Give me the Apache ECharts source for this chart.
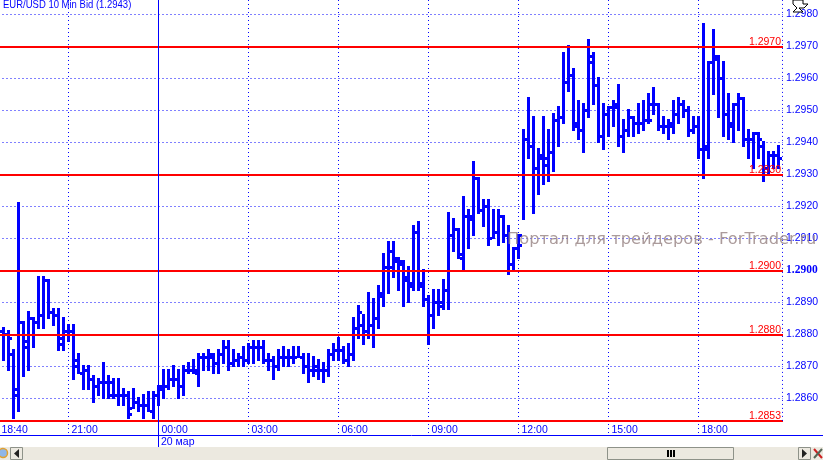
<!DOCTYPE html>
<html><head><meta charset="utf-8">
<style>html,body{margin:0;padding:0;background:#fff}#c{width:823px;height:461px}</style>
<script src="https://cdn.jsdelivr.net/npm/echarts@6/dist/echarts.min.js"></script>
</head><body><div id="c"></div>
<script>
const opens=[1.2881,1.2880,1.2874,1.2863,1.2884,1.2876,1.2885,1.2884,1.2886,1.2897,
1.2887,1.2886,1.2877,1.2881,1.2881,1.2872,1.2868,1.2869,1.2866,1.2864,
1.2865,1.2865,1.2861,1.2861,1.2861,1.2861,1.2857,1.2859,1.2858,1.2858,
1.2856,1.2861,1.2863,1.2864,1.2866,1.2866,1.2864,1.2869,1.2869,1.2868,
1.2873,1.2873,1.2873,1.2871,1.2874,1.2876,1.2871,1.2872,1.2873,1.2872,
1.2876,1.2876,1.2876,1.2872,1.2872,1.2870,1.2873,1.2873,1.2873,1.2873,
1.2873,1.2870,1.2869,1.2870,1.2869,1.2869,1.2874,1.2875,1.2875,1.2872,
1.2874,1.2882,1.2883,1.2881,1.2883,1.2885,1.2893,1.2901,1.2906,1.2904,
1.2902,1.2897,1.2895,1.2912,1.2896,1.2891,1.2886,1.2890,1.2889,1.2894,
1.2911,1.2913,1.2904,1.2917,1.2916,1.2929,1.2919,1.2920,1.2910,1.2912,
1.2917,1.2911,1.2902,1.2907,1.2911,1.2941,1.2939,1.2932,1.2935,1.2933,
1.2937,1.2947,1.2948,1.2959,1.2961,1.2946,1.2944,1.2950,1.2967,1.2958,
1.2942,1.2949,1.2951,1.2951,1.2942,1.2944,1.2948,1.2946,1.2946,1.2947,
1.2952,1.2952,1.2945,1.2945,1.2945,1.2949,1.2952,1.2950,1.2944,1.2945,
1.2938,1.2939,1.2965,1.2967,1.2960,1.2949,1.2945,1.2952,1.2954,1.2941,
1.2941,1.2943,1.2939,1.2932,1.2936,1.2936];
const highs=[1.2882,1.2881,1.2875,1.2921,1.2884,1.2887,1.2885,1.2898,1.2898,1.2897,
1.2888,1.2888,1.2885,1.2883,1.2883,1.2874,1.2870,1.2870,1.2867,1.2866,
1.2871,1.2867,1.2866,1.2866,1.2863,1.2862,1.2863,1.2860,1.2861,1.2862,
1.2862,1.2864,1.2869,1.2869,1.2870,1.2869,1.2870,1.2871,1.2872,1.2874,
1.2874,1.2875,1.2874,1.2875,1.2878,1.2878,1.2875,1.2874,1.2876,1.2877,
1.2878,1.2878,1.2878,1.2874,1.2873,1.2875,1.2876,1.2875,1.2876,1.2876,
1.2874,1.2874,1.2873,1.2872,1.2871,1.2875,1.2877,1.2879,1.2876,1.2877,
1.2885,1.2889,1.2886,1.2893,1.2891,1.2895,1.2905,1.2909,1.2909,1.2904,
1.2903,1.2901,1.2914,1.2915,1.2900,1.2892,1.2894,1.2894,1.2897,1.2918,
1.2916,1.2913,1.2923,1.2919,1.2934,1.2929,1.2922,1.2922,1.2919,1.2919,
1.2917,1.2914,1.2907,1.2911,1.2944,1.2954,1.2948,1.2938,1.2948,1.2944,
1.2949,1.2951,1.2968,1.2970,1.2963,1.2953,1.2952,1.2972,1.2968,1.2960,
1.2952,1.2951,1.2953,1.2958,1.2947,1.2950,1.2948,1.2952,1.2953,1.2955,
1.2957,1.2952,1.2948,1.2947,1.2953,1.2954,1.2953,1.2951,1.2948,1.2948,
1.2977,1.2965,1.2975,1.2967,1.2965,1.2955,1.2952,1.2955,1.2954,1.2944,
1.2943,1.2943,1.2940,1.2937,1.2937,1.2939];
const lows=[1.2872,1.2869,1.2854,1.2856,1.2867,1.2869,1.2876,1.2882,1.2882,1.2885,
1.2883,1.2875,1.2875,1.2878,1.2866,1.2868,1.2863,1.2863,1.2859,1.2861,
1.2860,1.2860,1.2860,1.2858,1.2858,1.2854,1.2857,1.2856,1.2854,1.2856,
1.2854,1.2858,1.2860,1.2863,1.2864,1.2860,1.2861,1.2868,1.2868,1.2864,
1.2869,1.2869,1.2868,1.2868,1.2871,1.2869,1.2870,1.2870,1.2870,1.2871,
1.2871,1.2872,1.2871,1.2869,1.2866,1.2869,1.2870,1.2870,1.2871,1.2873,
1.2868,1.2865,1.2867,1.2866,1.2865,1.2867,1.2872,1.2872,1.2871,1.2870,
1.2872,1.2879,1.2877,1.2879,1.2876,1.2882,1.2889,1.2893,1.2898,1.2894,
1.2889,1.2890,1.2894,1.2894,1.2889,1.2877,1.2882,1.2886,1.2888,1.2888,
1.2906,1.2904,1.2900,1.2907,1.2911,1.2918,1.2914,1.2908,1.2910,1.2908,
1.2909,1.2899,1.2900,1.2904,1.2916,1.2935,1.2918,1.2924,1.2927,1.2928,
1.2931,1.2939,1.2946,1.2956,1.2944,1.2941,1.2937,1.2948,1.2952,1.2940,
1.2938,1.2942,1.2945,1.2939,1.2937,1.2942,1.2942,1.2943,1.2944,1.2946,
1.2949,1.2944,1.2943,1.2941,1.2943,1.2946,1.2948,1.2942,1.2943,1.2935,
1.2929,1.2935,1.2955,1.2948,1.2942,1.2941,1.2940,1.2944,1.2939,1.2935,
1.2932,1.2935,1.2928,1.2930,1.2932,1.2932];
const closes=[1.2880,1.2879,1.2861,1.2884,1.2878,1.2885,1.2884,1.2886,1.2897,1.2887,
1.2886,1.2879,1.2881,1.2881,1.2870,1.2868,1.2869,1.2866,1.2864,1.2865,
1.2865,1.2865,1.2861,1.2861,1.2861,1.2855,1.2859,1.2858,1.2858,1.2856,
1.2861,1.2864,1.2864,1.2866,1.2866,1.2864,1.2869,1.2869,1.2869,1.2873,
1.2873,1.2874,1.2871,1.2874,1.2876,1.2871,1.2872,1.2873,1.2872,1.2876,
1.2876,1.2876,1.2872,1.2872,1.2870,1.2873,1.2873,1.2873,1.2873,1.2873,
1.2870,1.2869,1.2869,1.2869,1.2869,1.2874,1.2875,1.2875,1.2872,1.2874,
1.2882,1.2887,1.2881,1.2883,1.2885,1.2892,1.2901,1.2901,1.2903,1.2903,
1.2898,1.2896,1.2912,1.2895,1.2891,1.2886,1.2890,1.2890,1.2894,1.2911,
1.2913,1.2905,1.2917,1.2917,1.2929,1.2919,1.2920,1.2910,1.2912,1.2917,
1.2911,1.2902,1.2907,1.2908,1.2941,1.2939,1.2932,1.2936,1.2935,1.2937,
1.2947,1.2948,1.2959,1.2961,1.2945,1.2944,1.2950,1.2965,1.2958,1.2942,
1.2949,1.2951,1.2952,1.2942,1.2944,1.2948,1.2946,1.2946,1.2947,1.2947,
1.2952,1.2945,1.2945,1.2946,1.2949,1.2952,1.2950,1.2944,1.2945,1.2938,
1.2938,1.2965,1.2966,1.2960,1.2949,1.2946,1.2952,1.2954,1.2941,1.2941,
1.2943,1.2941,1.2932,1.2936,1.2936,1.2935];
const timeLabels=['18:40','21:00','00:00','03:00','06:00','09:00','12:00','15:00','18:00'];
const timeBarIndex=[-1,13,31,49,67,85,103,121,139];
const priceTicks=[1.2980,1.2970,1.2960,1.2950,1.2940,1.2930,1.2920,1.2910,1.2900,1.2890,1.2880,1.2870,1.2860];
const levelLines=[1.2970,1.2930,1.2900,1.2880,1.2853];
const titleText='EUR/USD 10 Min Bid (1.2943)';
const watermarkText='Портал для трейдеров - ForTrader.ru';
const dateLabel='20 мар';

const BLUE='#0000ff',RED='#ff0000',FONT='"Liberation Sans",Arial,sans-serif';
const yMax=1.298453,yMin=1.284828,xMin=-1,xMax=155.9;
const rows=opens.map((o,i)=>[i,o,closes[i],lows[i],highs[i]]);

function renderOHLC(params,api){
  const i=api.value(0);
  const cx=api.coord([i,api.value(1)])[0];
  const yO=Math.round(api.coord([i,api.value(1)])[1]);
  const yC=Math.round(api.coord([i,api.value(2)])[1]);
  const yL=Math.round(api.coord([i,api.value(3)])[1]);
  const yH=Math.round(api.coord([i,api.value(4)])[1]);
  const st={fill:BLUE,stroke:null};
  const x0=Math.round(cx-1.5);
  return {type:'group',children:[
    {type:'rect',shape:{x:x0,y:yH-1,width:3,height:yL-yH+2},style:st},
    {type:'rect',shape:{x:x0-2,y:yO-1,width:2,height:3},style:st},
    {type:'rect',shape:{x:x0+3,y:yC-1,width:2,height:3},style:st}
  ]};
}
const chart=echarts.init(document.getElementById('c'),null,{renderer:'canvas'});
const g=[];
g.push({type:'line',z:5,shape:{x1:0,y1:435.5,x2:823,y2:435.5},style:{stroke:BLUE,lineWidth:1}});
g.push({type:'line',z:5,shape:{x1:158.5,y1:436,x2:158.5,y2:447},style:{stroke:BLUE,lineWidth:1}});
g.push({type:'text',z:5,style:{text:dateLabel,x:161,y:437,fill:BLUE,font:'10.5px '+FONT}});
g.push({type:'rect',z:8,shape:{x:0,y:447,width:823,height:14},style:{fill:'#ece9e0'}});
g.push({type:'rect',z:9,shape:{x:0,y:460,width:823,height:1},style:{fill:'#ffffff'}});
g.push({type:'rect',z:9,shape:{x:607.5,y:447.5,width:126,height:12},style:{fill:'#ece9e0',stroke:'#8e9289',lineWidth:1}});
[667,670,673].forEach(x=>g.push({type:'rect',z:10,shape:{x:x,y:450,width:2,height:7},style:{fill:'#000'}}));
g.push({type:'rect',z:9,shape:{x:10.5,y:447.5,width:12,height:12},style:{fill:'#ece9e0',stroke:'#8e9289',lineWidth:1}});
g.push({type:'polygon',z:10,shape:{points:[[19,449],[19,458],[14,453.5]]},style:{fill:'#222'}});
g.push({type:'rect',z:9,shape:{x:798.5,y:447.5,width:12,height:12},style:{fill:'#ece9e0',stroke:'#8e9289',lineWidth:1}});
g.push({type:'polygon',z:10,shape:{points:[[802,449],[802,458],[807,453.5]]},style:{fill:'#222'}});
g.push({type:'circle',z:10,shape:{cx:3,cy:453,r:4.5},style:{fill:'#8fb6e8',stroke:'#e0a030',lineWidth:1.5}});
g.push({type:'line',z:10,shape:{x1:814,y1:449,x2:822,y2:458},style:{stroke:'#cc2020',lineWidth:2}});
g.push({type:'line',z:10,shape:{x1:822,y1:449,x2:814,y2:458},style:{stroke:'#556655',lineWidth:2}});
g.push({type:'polygon',z:10,shape:{points:[[793,0],[803,0],[803,4],[808,4],[804,8],[799,8],[803,12],[793,12],[797,8],[793,4]]},style:{fill:'#fff',stroke:'#000',lineWidth:1}});
g.push({type:'text',z:6,x:3,y:-1,scaleY:1.15,style:{text:titleText,x:0,y:0,fill:BLUE,font:'9.5px '+FONT}});
g.push({type:'text',z:7,style:{text:watermarkText,x:507,y:232,fill:'rgba(150,130,130,0.8)',font:'16.3px "DejaVu Sans",sans-serif'}});

chart.setOption({
  animation:false,backgroundColor:'#fff',
  grid:{left:-1.5,top:0,width:784.5,height:436,outerBoundsMode:'none'},
  xAxis:{type:'value',min:xMin,max:xMax,
    axisLine:{show:false},
    axisTick:{show:false,customValues:timeBarIndex},
    splitLine:{show:true,lineStyle:{color:BLUE,type:[1,3],width:1}},
    axisLabel:{inside:true,customValues:timeBarIndex,align:'left',margin:0,padding:[0,0,0,3],
      color:BLUE,fontFamily:FONT,fontSize:10.5,
      showMinLabel:true,showMaxLabel:true,hideOverlap:false,
      formatter:v=>timeLabels[timeBarIndex.indexOf(v)]||''}},
  yAxis:{type:'value',position:'right',min:yMin,max:yMax,
    axisLine:{show:false},
    axisTick:{show:false,customValues:priceTicks},
    splitLine:{show:true,lineStyle:{color:BLUE,type:[1,3],width:1}},
    axisLabel:{customValues:priceTicks,margin:3,color:BLUE,fontFamily:FONT,fontSize:10.5,
      formatter:v=>{const s=v.toFixed(4);return Math.abs(v-1.29)<1e-6?'{b|'+s+'}':s;},
      rich:{b:{fontWeight:'bold',color:BLUE,fontFamily:'"Liberation Serif",serif',fontSize:11.5}}}},
  series:[{type:'custom',renderItem:renderOHLC,data:rows,encode:{x:0,y:[1,2,3,4]},clip:true,z:3,
    markLine:{silent:true,symbol:'none',z:4,animation:false,precision:4,
      lineStyle:{color:BLUE,width:1,type:'solid'},
      data:[
        ...levelLines.map(v=>({yAxis:v,lineStyle:{color:RED,width:2,type:'solid'},
          label:{show:true,position:'insideEndTop',distance:[2,-1],formatter:v.toFixed(4),color:RED,fontFamily:FONT,fontSize:10.5}})),
        [{xAxis:31,yAxis:yMin,lineStyle:{color:BLUE,width:1,type:'solid'},label:{show:false}},{xAxis:31,yAxis:yMax}],
        [{xAxis:xMax-0.1,yAxis:1.2853,lineStyle:{color:BLUE,width:1,type:[1,3]},label:{show:false}},{xAxis:xMax-0.1,yAxis:yMax}]
      ]}}],
  graphic:g
});
</script></body></html>
